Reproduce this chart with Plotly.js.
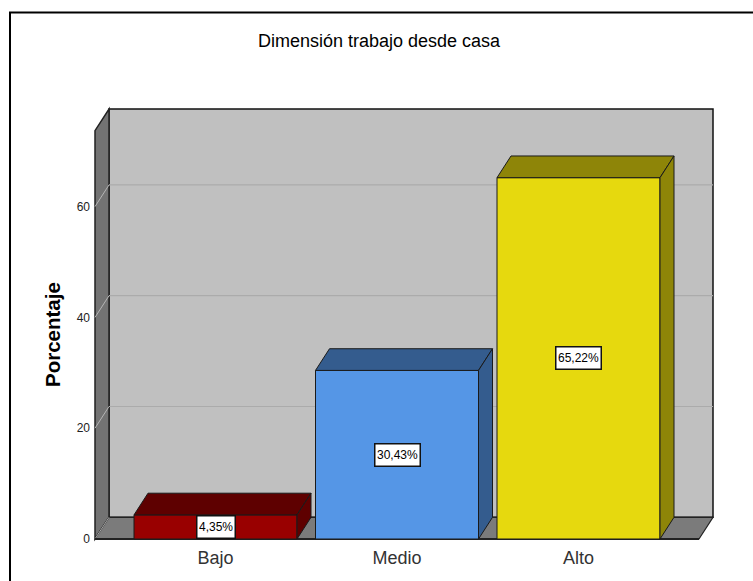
<!DOCTYPE html>
<html><head><meta charset="utf-8">
<script src="https://cdn.plot.ly/plotly-3.0.1.min.js"></script>
<style>html,body{margin:0;padding:0;background:#fff}#c{width:753px;height:581px}</style></head>
<body><div id="c"></div>
<script>
const categories = ['Bajo','Medio','Alto'];
const values = [4.35,30.43,65.22];
const valueLabels = ['4,35%','30,43%','65,22%'];
const frontColors = ['#990000','#5596E6','#E6D90E'];
const sideColors = ['#5E0000','#345C8E','#8E8508'];
const yTicks = [0,20,40,60];

const W = 753, H = 581;
// pixel frame of the 3D box, and the slightly larger subplot holding it
const boxL = 95, boxR = 713, boxT = 109, boxB = 539, pad = 4;
const pxPerX = 181.5, pxPerY = 5.54, firstCenter = 215.5;
const x0 = -(firstCenter-boxL)/pxPerX, x1 = x0+(boxR-boxL)/pxPerX;
const yTop = (boxB-boxT)/pxPerY;
const dx = 14/pxPerX, dy = 21.7/pxPerY;
const barW = 163/pxPerX;
const xs = categories.map((c,i)=>i);
const backL = x0+dx, backR = x1, floorR = x1-dx;
const paperX = px=>(px-boxL+pad)/(boxR-boxL+2*pad);
const paperY = px=>(boxB+pad-px)/(boxB-boxT+2*pad);

const pathOf = (x,y)=>'M '+x.map((v,i)=>v+' '+y[i]).join(' L ')+' Z';
const wall = (x,y,fill,line,w)=>({type:'path',xref:'x',yref:'y',layer:'below',path:pathOf(x,y),fillcolor:fill,line:{color:line,width:w}});
const rule = (xa,ya,xb,yb,color,w)=>({type:'line',xref:'x',yref:'y',layer:'below',x0:xa,y0:ya,x1:xb,y1:yb,line:{color,width:w}});
const poly = (x,y,fill,line,w)=>({type:'scatter',mode:'lines',x,y,fill:'toself',fillcolor:fill,
  line:{color:line,width:w},hoverinfo:'skip',showlegend:false});

const shapes = [
  wall([backL,backR,backR,backL],[dy,dy,yTop,yTop],'#C0C0C0','#111',1.5),
  wall([x0,backL,backL,x0],[0,dy,yTop,yTop-dy],'#737373','#222',1.5),
  wall([x0,floorR,backR,backL],[0,0,dy,dy],'#7B7B7B','#222',1.2),
];
yTicks.filter(v=>v>0).forEach(v=>{
  shapes.push(rule(backL,v+dy,backR,v+dy,'#ABABAB',1.2));
  shapes.push(rule(x0,v,backL,v+dy,'#B5B5B5',1));
});
shapes.push(rule(x0,0,backL,dy,'#A8A8A8',1));
shapes.push(rule(x0,0,floorR,0,'#222',2));
// page frame: top and left edges only, running off the page
shapes.push({type:'path',xref:'paper',yref:'paper',
  path:`M ${paperX(10)} ${paperY(600)} L ${paperX(10)} ${paperY(12.5)} L ${paperX(760)} ${paperY(12.5)}`,
  line:{color:'#000',width:2}});

const traces = [];
traces.push({type:'bar',x:xs,y:values,width:barW,marker:{color:frontColors,line:{color:'#1a1a1a',width:1}},
  hoverinfo:'skip',showlegend:false});
xs.forEach((x,i)=>{
  const l=x-barW/2,r=x+barW/2,v=values[i];
  traces.push(poly([l,r,r+dx,l+dx,l],[v,v,v+dy,v+dy,v],sideColors[i],'#1a1a1a',1));
  traces.push(poly([r,r+dx,r+dx,r,r],[0,dy,v+dy,v,0],sideColors[i],'#1a1a1a',1));
});

const annotations = xs.map((x,i)=>({x,y:values[i]/2,xref:'x',yref:'y',text:valueLabels[i],showarrow:false,
  font:{family:'Liberation Sans',size:12,color:'#000'},height:18,
  bgcolor:'#fff',bordercolor:'#111',borderwidth:1.5,borderpad:1.5}));
annotations.push({text:'<b>Porcentaje</b>',xref:'paper',yref:'paper',x:paperX(52),y:paperY(335),textangle:-90,
  showarrow:false,xanchor:'center',yanchor:'middle',font:{family:'Liberation Sans',size:20.5,color:'#000'}});

Plotly.newPlot('c',traces,{
  width:W,height:H,paper_bgcolor:'#fff',plot_bgcolor:'rgba(0,0,0,0)',showlegend:false,barmode:'overlay',
  margin:{l:boxL-pad,r:W-boxR-pad,t:boxT-pad,b:H-boxB-pad,pad:0},
  title:{text:'Dimensión trabajo desde casa',x:379/W,xanchor:'center',y:1-41/H,yanchor:'middle',
    font:{family:'Liberation Sans',size:18,color:'#000'}},
  xaxis:{range:[x0-pad/pxPerX,x1+pad/pxPerX],tickvals:xs,ticktext:categories,showgrid:false,zeroline:false,showline:false,ticks:'',
    tickfont:{family:'Liberation Sans',size:18,color:'#333'},ticklabelstandoff:2},
  yaxis:{range:[-pad/pxPerY,yTop+pad/pxPerY],tickvals:yTicks,showgrid:false,zeroline:false,showline:false,ticks:'',
    tickfont:{family:'Liberation Sans',size:12,color:'#222'},ticklabelstandoff:0},
  annotations,shapes
},{displayModeBar:false,staticPlot:true});
</script></body></html>
